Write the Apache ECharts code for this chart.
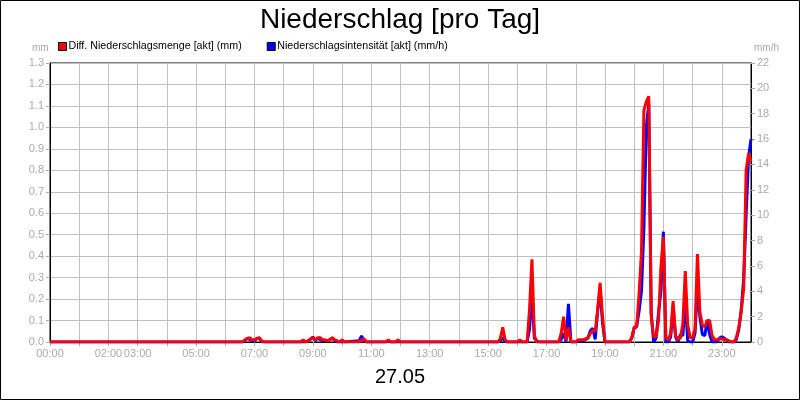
<!DOCTYPE html>
<html>
<head>
<meta charset="utf-8">
<script src="https://cdn.jsdelivr.net/npm/echarts@6/dist/echarts.min.js"></script>
<style>
html,body{margin:0;padding:0;background:#fff;}
#chart{width:800px;height:400px;}
</style>
</head>
<body>
<div id="chart"></div>
<script>
// Time of each sample (HH:MM), 5-minute readings (dry stretches given only by their ends)
var times = [
"00:00","06:35","06:40","06:45","06:50","06:55","07:00","07:05","07:10","07:15","07:20",
"08:35","08:40","08:45","08:50","08:55","09:00","09:05","09:10","09:15","09:20","09:25","09:30","09:35","09:40","09:45","09:50","09:55","10:00","10:05",
"10:35","10:40","10:45","10:50","11:30","11:35","11:40","11:50","11:55","12:00",
"15:20","15:25","15:30","15:35","15:40","16:00","16:05","16:10","16:20","16:25","16:30","16:35","16:40","16:45",
"17:25","17:30","17:35","17:40","17:45","17:50","18:00","18:05","18:10","18:15","18:20","18:25","18:30","18:35","18:40","18:45","18:50","18:55","19:00",
"19:50","19:55","20:00","20:05","20:10","20:15","20:20","20:25","20:30","20:35","20:40","20:45","20:50","20:55","21:00",
"21:05","21:10","21:15","21:20","21:25","21:30","21:35","21:40","21:45","21:50","21:55","22:00",
"22:05","22:10","22:15","22:20","22:25","22:30","22:35","22:40","22:45","22:50","22:55","23:00",
"23:05","23:10","23:15","23:20","23:25","23:30","23:35","23:40","23:45","23:50","23:55","24:00"
];
// Diff. Niederschlagsmenge [akt] (mm)
var mengeMm = [
0,0,0.01,0.015,0.02,0.01,0.01,0.015,0.02,0.005,0,
0,0.01,0,0.005,0.015,0.02,0.01,0.02,0.02,0.01,0.01,0.005,0.01,0.02,0.01,0.005,0,0.01,0,
0,0.01,0.015,0,0,0.01,0,0,0.01,0,
0,0.015,0.068,0.01,0,0,0.01,0,0,0.15,0.385,0.03,0,0,
0,0.04,0.118,0.01,0.067,0,0,0.01,0.01,0.01,0.015,0.02,0.04,0.055,0.05,0.15,0.276,0.12,0,
0,0.02,0.07,0.07,0.22,0.42,1.08,1.12,1.145,0.12,0.025,0.025,0.1,0.35,0.49,
0.02,0.01,0.04,0.19,0.03,0.01,0.02,0.085,0.33,0.08,0.02,0.02,
0.06,0.41,0.14,0.08,0.07,0.10,0.10,0.03,0.01,0.01,0.015,0.015,
0.01,0.01,0.005,0,0,0.02,0.07,0.14,0.25,0.8,0.88,0.84
];
// Niederschlagsintensität [akt] (mm/h)
var intensitaetMmH = [
0,0,0.1,0.3,0.2,0.1,0.1,0.3,0.3,0,0,
0,0,0,0.1,0.2,0.4,0.1,0.3,0.2,0.1,0.1,0.1,0.2,0.3,0.1,0,0,0,0,
0.1,0.47,0.1,0,0,0.1,0,0,0,0,
0,0.1,0.34,0.05,0,0,0,0,0,1.0,3.97,0.3,0.1,0,
0,0.2,0.69,0.05,3.0,0,0,0.1,0.1,0.1,0.2,0.3,0.9,1.08,0.2,2.5,4.1,1.5,0,
0,0.3,1.1,1.2,2.4,4.0,9.0,17.0,18.8,2.3,0,0.3,2.3,4.0,8.7,
0,0,0.4,2.8,0.4,0,0.6,0.5,3.3,0.1,0,0,
0.7,4.3,2.0,0.6,0.5,1.7,0.6,0,0,0,0.3,0.4,
0.3,0.15,0,0,0,0.2,1.0,2.6,5.0,10.0,14.6,16.0
];
// x-axis tick labels shown (hour -> label)
var xTickLabels = ["00:00","02:00","03:00","05:00","07:00","09:00","11:00","13:00","15:00","17:00","19:00","21:00","23:00"];
var titleText = "Niederschlag [pro Tag]";
var dateText = "27.05";
var seriesNames = ["Diff. Niederschlagsmenge [akt] (mm)", "Niederschlagsintensität [akt] (mm/h)"];

function toHours(s){var p=s.split(":");return +p[0]+(+p[1])/60;}
var redData = times.map(function(t,i){return [toHours(t), mengeMm[i]];});
var blueData = times.map(function(t,i){return [toHours(t), intensitaetMmH[i]];});
var labelHours = {};
xTickLabels.forEach(function(l){labelHours[toHours(l)] = l;});

var FONT = "Liberation Sans, Arial, sans-serif";
var GRAY = "#aaaaaa";
var chart = echarts.init(document.getElementById('chart'), null, {renderer:'canvas'});
chart.setOption({
  animation:false,
  backgroundColor:'#fff',
  textStyle:{fontFamily:FONT},
  title:{
    text:titleText, left:'center', top:1,
    textStyle:{fontSize:28, fontWeight:'normal', color:'#000', fontFamily:FONT}
  },
  legend:{
    left:53, top:36, itemGap:25, itemWidth:8, itemHeight:8,
    textStyle:{fontSize:10.7, color:'#000', fontFamily:FONT, padding:[0,0,0,-3]},
    data:[
      {name:seriesNames[0], icon:'rect', itemStyle:{color:'#ff0000', borderColor:'#000', borderWidth:1}},
      {name:seriesNames[1], icon:'rect', itemStyle:{color:'#0000ff', borderColor:'#000', borderWidth:1}}
    ]
  },
  graphic:[
    {type:'rect', shape:{x:0.5,y:0.5,width:799,height:399}, style:{fill:'none', stroke:'#000', lineWidth:1}, silent:true},
    {type:'text', left:32, top:43, style:{text:'mm', fontSize:10, fill:GRAY, fontFamily:FONT}},
    {type:'text', left:754, top:43, style:{text:'mm/h', fontSize:10, fill:GRAY, fontFamily:FONT}},
    {type:'text', left:'center', top:367, style:{text:dateText, fontSize:20, fill:'#000', fontFamily:FONT}}
  ],
  grid:{left:50, right:49, top:63, bottom:58, show:true, borderColor:'#000', borderWidth:1, containLabel:false},
  xAxis:{
    type:'value', min:0, max:24, interval:1,
    axisLine:{show:true, lineStyle:{color:'#000'}},
    axisTick:{show:true, length:4, lineStyle:{color:GRAY}},
    axisLabel:{
      color:GRAY, fontSize:11, margin:6, showMaxLabel:false,
      formatter:function(v){return labelHours[v] !== undefined ? labelHours[v] : '';}
    },
    splitLine:{show:true, lineStyle:{color:'#c0c0c0', width:1}}
  },
  yAxis:[
    {
      type:'value', min:0, max:1.3, interval:0.1, position:'left',
      axisLine:{show:true, lineStyle:{color:'#000'}},
      axisTick:{show:true, length:4, lineStyle:{color:GRAY}},
      axisLabel:{color:GRAY, fontSize:11, margin:6, formatter:function(v){return v.toFixed(1);}},
      splitLine:{show:true, lineStyle:{color:'#c0c0c0', width:1}}
    },
    {
      type:'value', min:0, max:22, interval:2, position:'right',
      axisLine:{show:true, lineStyle:{color:'#000'}},
      axisTick:{show:true, length:4, lineStyle:{color:GRAY}},
      axisLabel:{color:GRAY, fontSize:11, margin:6},
      splitLine:{show:false}
    }
  ],
  series:[
    {
      name:seriesNames[1], type:'line', yAxisIndex:1, data:blueData,
      showSymbol:false, symbol:'none', lineStyle:{color:'#0000ff', width:3}, itemStyle:{color:'#0000ff'}, z:2
    },
    {
      name:seriesNames[0], type:'line', yAxisIndex:0, data:redData,
      showSymbol:false, symbol:'none', lineStyle:{color:'#ff0000', width:3}, itemStyle:{color:'#ff0000'}, z:3
    }
  ]
});
</script>
</body>
</html>
